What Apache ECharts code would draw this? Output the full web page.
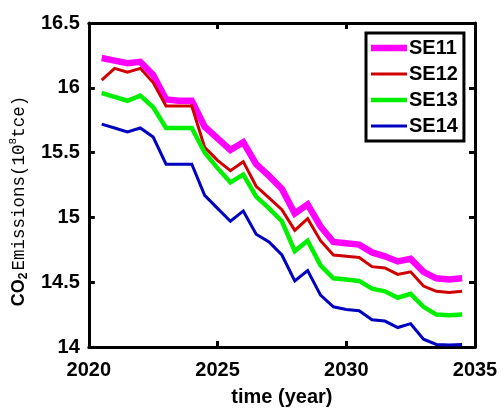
<!DOCTYPE html>
<html>
<head>
<meta charset="utf-8">
<script src="https://cdn.jsdelivr.net/npm/echarts@6/dist/echarts.min.js"></script>
<style>
  html, body { margin: 0; padding: 0; background: #fff; }
  #chart { width: 504px; height: 412px; }
</style>
</head>
<body>
<div id="chart"></div>
<script>
// Time axis: half-year steps
const years = [2020.5, 2021, 2021.5, 2022, 2022.5, 2023, 2023.5, 2024, 2024.5, 2025,
  2025.5, 2026, 2026.5, 2027, 2027.5, 2028, 2028.5, 2029, 2029.5, 2030,
  2030.5, 2031, 2031.5, 2032, 2032.5, 2033, 2033.5, 2034, 2034.5];

// CO2 emissions per scenario (10^8 tce)
const se11 = [16.23, 16.21, 16.19, 16.20, 16.10, 15.91, 15.90, 15.90, 15.70, 15.61,
  15.52, 15.58, 15.41, 15.32, 15.22, 15.03, 15.10, 14.93, 14.81, 14.80,
  14.79, 14.73, 14.70, 14.66, 14.68, 14.58, 14.53, 14.52, 14.53];
const se12 = [16.06, 16.15, 16.12, 16.15, 16.04, 15.86, 15.86, 15.86, 15.54, 15.44,
  15.36, 15.43, 15.24, 15.15, 15.06, 14.90, 14.99, 14.82, 14.71, 14.70,
  14.69, 14.62, 14.61, 14.56, 14.58, 14.47, 14.43, 14.42, 14.43];
const se13 = [15.96, 15.93, 15.90, 15.94, 15.85, 15.69, 15.69, 15.69, 15.50, 15.38,
  15.27, 15.33, 15.16, 15.07, 14.97, 14.74, 14.82, 14.63, 14.53, 14.52,
  14.51, 14.45, 14.43, 14.38, 14.41, 14.31, 14.25, 14.245, 14.25];
const se14 = [15.72, 15.69, 15.66, 15.69, 15.62, 15.41, 15.41, 15.41, 15.17, 15.07,
  14.97, 15.05, 14.87, 14.81, 14.71, 14.51, 14.59, 14.40, 14.31, 14.29,
  14.28, 14.21, 14.20, 14.15, 14.18, 14.06, 14.02, 14.015, 14.02];

const seriesNames = ['SE11', 'SE12', 'SE13', 'SE14'];
const seriesValues = [se11, se12, se13, se14];
const seriesColors = ['#ff00ff', '#d00000', '#00f000', '#0000c0'];
const seriesWidths = [6.5, 3, 4.5, 3];

const FONT = "'Liberation Sans', Arial, sans-serif";

// Legend swatch: a horizontal bar of the series' line width, centred in a 36x14 box
function barIcon(w) {
  const top = (14 - w) / 2;
  return 'path://M0,0H0.01V14H0Z M0,' + top + 'H36V' + (top + w) + 'H0Z M35.99,0H36V14H35.99Z';
}

const chart = echarts.init(document.getElementById('chart'), null, { renderer: 'canvas' });

const axisLine = { show: true, lineStyle: { color: '#000', width: 3 } };
const axisTick = { show: true, inside: true, length: 6, lineStyle: { color: '#000', width: 3 } };
const tickLabel = { color: '#000', fontFamily: FONT, fontWeight: 'bold', fontSize: 20 };

chart.setOption({
  animation: false,
  backgroundColor: '#fff',
  grid: { left: 81, right: 29, top: 23, bottom: 63, containLabel: false },
  legend: {
    data: seriesNames.map((name, i) => ({
      name,
      icon: barIcon(seriesWidths[i]),
      itemStyle: { color: seriesColors[i], borderWidth: 0 }
    })),
    orient: 'vertical',
    left: 366,
    top: 33,
    padding: [5, 6, 5, 5],
    itemGap: 6,
    itemWidth: 36,
    itemHeight: 14,
    borderColor: '#000',
    borderWidth: 3,
    backgroundColor: '#fff',
    textStyle: { color: '#000', fontFamily: FONT, fontWeight: 'bold', fontSize: 20, padding: [0, 0, 0, -3] }
  },
  xAxis: [
    {
      type: 'value', min: 2020, max: 2035, interval: 5,
      name: 'time (year)', nameLocation: 'middle', nameGap: 40,
      nameTextStyle: { color: '#000', fontFamily: FONT, fontWeight: 'bold', fontSize: 20 },
      axisLine, axisTick,
      axisLabel: Object.assign({ margin: 13, formatter: v => String(v) }, tickLabel),
      splitLine: { show: false }
    },
    {
      type: 'value', position: 'top', min: 2020, max: 2035, interval: 5,
      axisLine, axisTick, axisLabel: { show: false }, splitLine: { show: false }
    }
  ],
  yAxis: [
    {
      type: 'value', min: 14, max: 16.5, interval: 0.5,
      name: '{b|CO}{s|2}{m|Emissions(10}{p|8}{m|tce)}',
      nameLocation: 'middle', nameGap: 43, nameRotate: 90,
      nameTextStyle: {
        color: '#000',
        padding: [0, 32, 0, 0],
        rich: {
          b: { fontFamily: FONT, fontWeight: 'bold', fontSize: 18, lineHeight: 22, verticalAlign: 'middle', color: '#000' },
          s: { fontFamily: FONT, fontWeight: 'bold', fontSize: 12, lineHeight: 22, verticalAlign: 'bottom', padding: [0, 2, 0, 0], color: '#000' },
          m: { fontFamily: "'Liberation Mono', 'DejaVu Sans Mono', monospace", fontSize: 17.5, lineHeight: 22, verticalAlign: 'middle', color: '#000' },
          p: { fontFamily: "'Liberation Mono', monospace", fontSize: 11, lineHeight: 22, verticalAlign: 'top', color: '#000' }
        }
      },
      axisLine, axisTick,
      axisLabel: Object.assign({ margin: 9, formatter: v => String(v) }, tickLabel),
      splitLine: { show: false }
    },
    {
      type: 'value', position: 'right', min: 14, max: 16.5, interval: 0.5,
      axisLine, axisTick, axisLabel: { show: false }, splitLine: { show: false }
    }
  ],
  series: seriesNames.map((name, i) => ({
    name,
    type: 'line',
    data: years.map((y, k) => [y, seriesValues[i][k]]),
    symbol: 'none',
    showSymbol: false,
    color: seriesColors[i],
    lineStyle: { color: seriesColors[i], width: seriesWidths[i], join: 'miter' },
    z: 2
  }))
});
</script>
</body>
</html>
